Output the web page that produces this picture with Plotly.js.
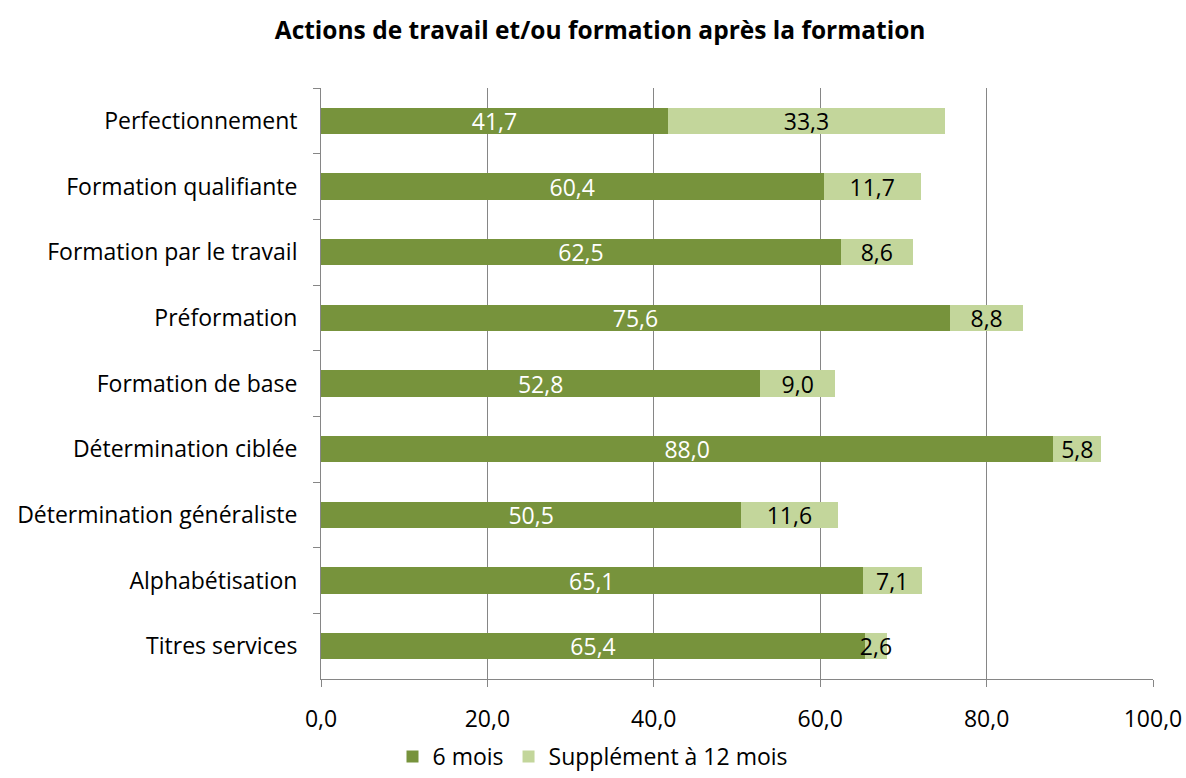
<!DOCTYPE html>
<html><head><meta charset="utf-8">
<script src="https://cdn.plot.ly/plotly-3.0.1.min.js"></script>
<style>html,body{margin:0;padding:0;background:#fff}#chart{width:1186px;height:778px}</style>
</head><body><div id="chart"></div>
<script>
const categories = ["Perfectionnement","Formation qualifiante","Formation par le travail","Préformation","Formation de base","Détermination ciblée","Détermination généraliste","Alphabétisation","Titres services"];
const sixMois = [41.7,60.4,62.5,75.6,52.8,88.0,50.5,65.1,65.4];
const supplement12 = [33.3,11.7,8.6,8.8,9.0,5.8,11.6,7.1,2.6];
const seriesNames = ["6 mois","Supplément à 12 mois"];
const xTicks = [0,20,40,60,80,100];

const FONT = "'Open Sans', sans-serif";
const FS = 23;
const traces = [
  {type:'bar', orientation:'h', name:seriesNames[0], y:categories, x:sixMois,
   marker:{color:'#77933C'}, texttemplate:'%{x:.1f}', textposition:'inside',
   insidetextanchor:'middle', textangle:0, constraintext:'none',
   textfont:{color:'#ffffff', size:FS, family:FONT}, hoverinfo:'x+name'},
  {type:'bar', orientation:'h', name:seriesNames[1], y:categories, x:supplement12,
   marker:{color:'#C3D69B'}, texttemplate:'%{x:.1f}', textposition:'inside',
   insidetextanchor:'middle', textangle:0, constraintext:'none', cliponaxis:false,
   textfont:{color:'#000000', size:FS, family:FONT}, hoverinfo:'x+name'}
];
const layout = {
  width:1186, height:778,
  margin:{l:321, r:33, t:88, b:99},
  barmode:'stack', bargap:0.6,
  separators:', ',
  font:{family:FONT, size:FS, color:'#000'},
  uniformtext:{mode:'show', minsize:FS},
  title:{text:'<b>Actions de travail et/ou formation après la formation</b>', x:0.506, xanchor:'center', y:0.961, yanchor:'middle', font:{size:24.5, family:FONT, color:'#000'}},
  xaxis:{range:[0,100], tickvals:xTicks, tickformat:'.1f', showgrid:true, gridcolor:'#868686', gridwidth:1,
    zeroline:false, showline:true, linecolor:'#868686', ticks:'outside', ticklen:7, tickcolor:'#868686',
    ticklabelstandoff:12, tickfont:{size:FS}, fixedrange:true, automargin:false},
  yaxis:{type:'category', autorange:'reversed', showline:true, linecolor:'#868686', ticks:'outside', ticklen:7,
    tickcolor:'#868686', tickson:'boundaries', showgrid:false, ticksuffix:'\u00a0\u00a0\u00a0', tickfont:{size:FS}, automargin:false},
  legend:{orientation:'h', x:0.5, xanchor:'center', xref:'container', yref:'container', y:0, yanchor:'bottom',
    font:{size:FS}, traceorder:'normal'},
  plot_bgcolor:'#fff', paper_bgcolor:'#fff', showlegend:true
};
Plotly.newPlot('chart', traces, layout, {displayModeBar:false, staticPlot:true});
</script></body></html>
